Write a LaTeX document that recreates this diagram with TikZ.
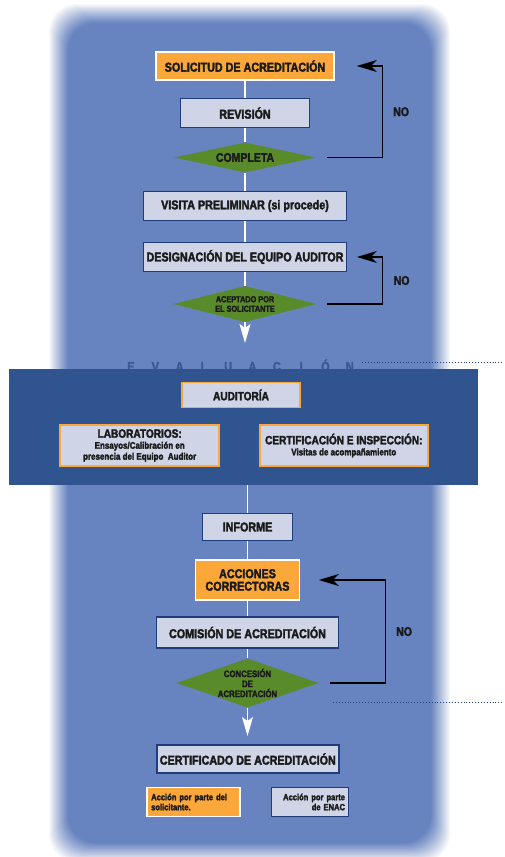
\documentclass[tikz,border=0pt]{standalone}
\usepackage{fontspec}
\setmainfont{Liberation Sans}[FakeStretch=0.84,BoldFeatures={FakeBold=2.5}]
\usetikzlibrary{shapes.geometric,arrows.meta}
\definecolor{fondo}{HTML}{6783C0}
\definecolor{banda}{HTML}{30548F}
\definecolor{naranja}{HTML}{FBA73A}
\definecolor{claro}{HTML}{CFD5E6}
\definecolor{marco}{HTML}{1F3C7C}
\definecolor{verde}{HTML}{5A8B2B}
\definecolor{letra}{HTML}{1A1A1A}
\definecolor{tenue}{HTML}{3A5898}
\begin{document}
\begin{tikzpicture}[x=1pt,y=-1pt,
    caja/.style={draw=marco,line width=1.9pt,fill=claro,text=letra,inner sep=0pt,font=\bfseries\fontsize{12.8}{14}\selectfont},
    soli/.style={caja,draw=white,line width=1.6pt},
    eva/.style={caja,draw=naranja,line width=1.7pt,font=\bfseries\fontsize{12}{13}\selectfont},
    rombo/.style={diamond,fill=verde,text=letra,inner sep=0pt,align=center},
    linea/.style={white,line width=1.3pt},
    flecha/.style={white,line width=1.3pt,-{Stealth[length=19pt,width=11pt,inset=4pt]}},
    lazo/.style={black,line width=1.4pt,-{Stealth[length=20pt,width=12pt,inset=6pt]}},
    no/.style={right=7pt,font=\bfseries\fontsize{12.5}{13}\selectfont,text=letra},
    chica/.style={font=\bfseries\fontsize{9}{10}\selectfont}]

    \useasboundingbox (0,0) rectangle (504,857);
    \fill[white] (0,0) rectangle (504,857);
    % fondo azul con borde difuminado
    \foreach \k in {1,...,20}{
        \pgfmathsetmacro\op{1/(21-\k)}
        \fill[fondo,fill opacity=\op,rounded corners=28pt] (48+\k,3+\k) rectangle (451-\k,863-\k);
    }

    % parte superior
    \node[soli,fill=naranja,minimum width=178pt,minimum height=28pt] (sol) at (245,66) {SOLICITUD DE ACREDITACIÓN};
    \node[caja,minimum width=129pt,minimum height=29pt] (rev) at (245,113) {REVISIÓN};
    \node[rombo,shape aspect=4.7,minimum width=142pt,minimum height=30pt,font=\bfseries\fontsize{12.5}{13}\selectfont] (comp) at (245,157.5) {COMPLETA};
    \node[caja,minimum width=203pt,minimum height=29pt] (vis) at (245,206) {VISITA PRELIMINAR (si procede)};
    \node[caja,minimum width=203pt,minimum height=29pt] (des) at (245,257) {DESIGNACIÓN DEL EQUIPO AUDITOR};
    \node[rombo,shape aspect=4,minimum width=143pt,minimum height=36pt,font=\bfseries\fontsize{8.7}{9.5}\selectfont] (acep) at (245,304) {ACEPTADO POR\\EL SOLICITANTE};
    \coordinate (finA) at (245,343);

    \foreach \a/\b in {sol/rev,rev/comp,comp/vis,vis/des,des/acep}
        \draw[linea] (\a) -- (\b);
    \draw[flecha] (acep) -- (finA);

    \draw[lazo] ([xshift=11pt]comp.east) -- ++(55,0) |- node[pos=0.25,no] {NO} ([xshift=22pt]sol.east);
    \draw[lazo] ([xshift=10.5pt]acep.east) -- ++(55.5,0) |- node[pos=0.25,no] {NO} ([xshift=9.5pt]des.east);

    % evaluacion
    \foreach[count=\i] \ch in {E,V,A,L,U,A,C,I,Ó,N}
        \node[anchor=base,inner sep=0pt,text=tenue,font=\bfseries\fontsize{13}{14}\selectfont] (ev\i) at (131+24.3*\i-24.3,371) {\ch};
    \coordinate (puA) at (362,362.5);
    \coordinate (puB) at (504,362.5);
    \draw[marco,dotted,line width=0.9pt] (puA) -- (puB);

    \node[fill=banda,minimum width=469pt,minimum height=116pt,inner sep=0pt] (eval) at (243.5,427) {};
    \node[eva,minimum width=118pt,minimum height=25pt] (aud) at (241,395) {AUDITORÍA};
    \node[eva,minimum width=159pt,minimum height=41pt,align=center] (lab) at (139.7,445.5)
        {LABORATORIOS:\\[-2pt]\fontsize{9.5}{10}\selectfont Ensayos/Calibración en\\[-2pt]\fontsize{9.5}{10}\selectfont presencia del Equipo\ \ Auditor};
    \node[eva,minimum width=168pt,minimum height=41pt,align=center] (cert) at (343.8,445.5)
        {CERTIFICACIÓN E INSPECCIÓN:\\[-2pt]\fontsize{9.5}{10}\selectfont Visitas de acompañamiento};

    % parte inferior
    \node[caja,minimum width=90pt,minimum height=27pt] (inf) at (247.5,527) {INFORME};
    \node[soli,fill=naranja,minimum width=104pt,minimum height=40pt,align=center] (acc) at (247.5,580) {ACCIONES\\[-1.5pt]CORRECTORAS};
    \node[caja,minimum width=182pt,minimum height=31pt] (com) at (247.5,632.5) {COMISIÓN DE ACREDITACIÓN};
    \node[rombo,shape aspect=2.9,minimum width=142pt,minimum height=49pt,font=\bfseries\fontsize{9.3}{10}\selectfont] (conc) at (247.5,683) {CONCESIÓN\\DE\\ACREDITACIÓN};
    \coordinate (finB) at (247.5,736);
    \node[caja,minimum width=182pt,minimum height=28pt] (cer) at (247.8,759) {CERTIFICADO DE ACREDITACIÓN};

    \draw[linea] (eval.south -| inf) -- (inf);
    \foreach \a/\b in {inf/acc,acc/com,com/conc}
        \draw[linea] (\a) -- (\b);
    \draw[flecha] (conc) -- (finB);
    \draw[lazo] ([xshift=11.5pt]conc.east) -- ++(55,0) |- node[pos=0.25,no] {NO} ([xshift=18.5pt]acc.east);
    \coordinate (puC) at (333,702);
    \coordinate (puD) at (504,702);
    \draw[marco,dotted,line width=0.9pt] (puC) -- (puD);

    % leyenda
    \node[soli,fill=naranja,chica,minimum width=93pt,minimum height=29pt,text width=85pt,align=left] (leyA) at (193.7,802) {Acción por parte del\\solicitante.};
    \node[caja,chica,minimum width=77pt,minimum height=29pt,text width=70pt,align=right] (leyB) at (310,802) {Acción por parte\\de ENAC};
\end{tikzpicture}
\end{document}
